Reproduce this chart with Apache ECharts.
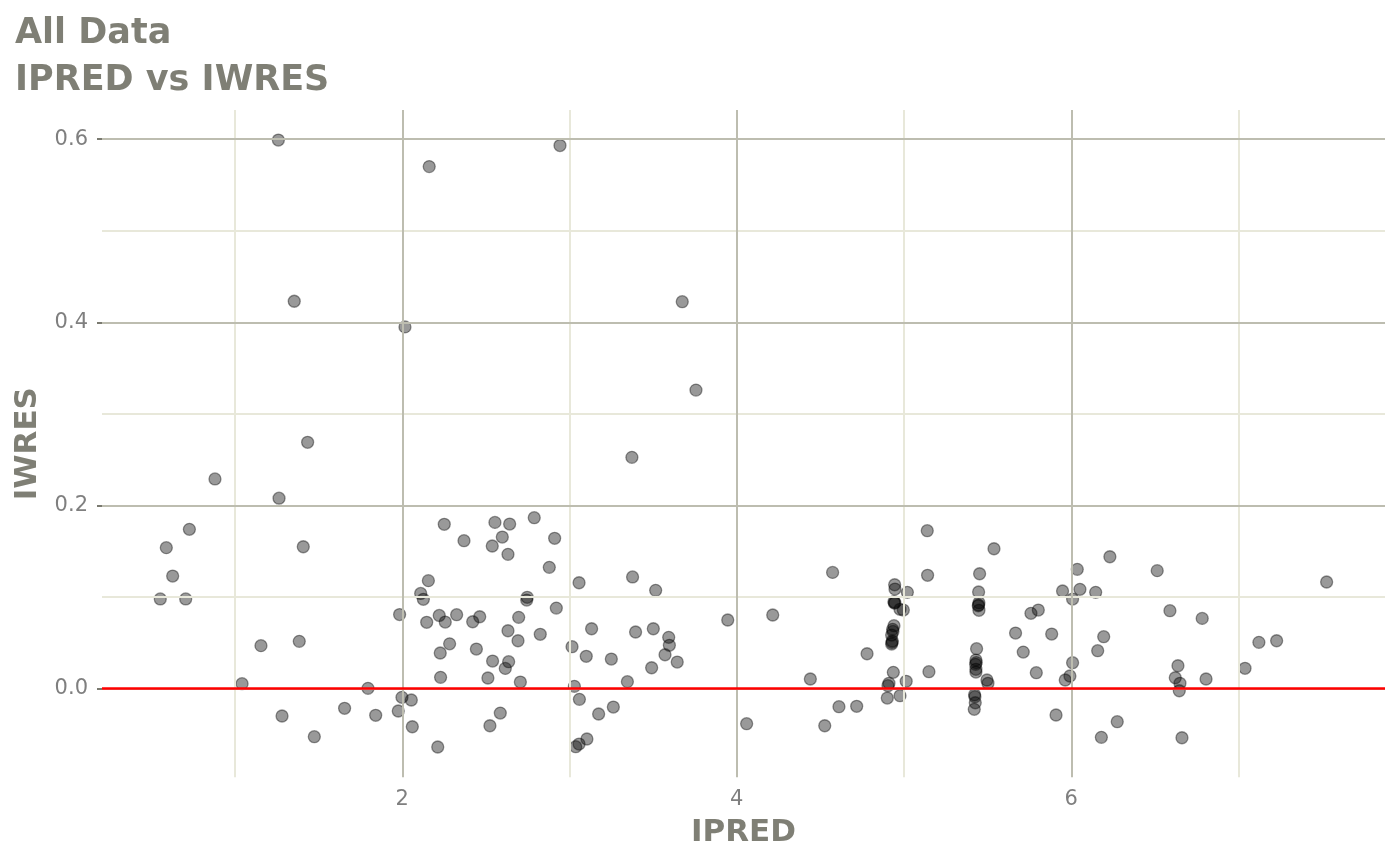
<!DOCTYPE html>
<html>
<head>
<meta charset="utf-8">
<script src="https://cdn.jsdelivr.net/npm/echarts@6/dist/echarts.min.js"></script>
<style>html,body{margin:0;padding:0;background:#fff}#c{width:1400px;height:865px}</style>
</head>
<body>
<div id="c"></div>
<script>
const ipred = [
1.259,2.161,1.354,2.016,2.943,3.674,3.756,1.434,0.880,1.263,2.251,0.727,0.589,1.408,0.627,0.553,0.705,2.156,2.110,2.126,
1.984,2.221,2.146,2.257,2.283,2.227,1.155,1.384,2.229,1.042,1.795,1.998,2.054,1.281,1.655,1.841,1.976,2.060,1.474,2.212,
3.373,2.554,2.642,2.789,2.369,2.598,2.538,2.911,2.632,2.879,3.057,3.377,3.515,2.747,2.744,2.921,2.325,2.421,2.463,2.696,
2.632,2.825,2.692,3.132,3.395,3.501,3.593,3.597,3.571,3.644,3.491,2.443,2.540,2.636,2.616,3.015,3.100,3.250,2.512,2.706,
3.346,3.029,3.059,3.262,3.174,2.586,2.524,3.104,3.057,3.037,3.946,4.215,4.059,4.573,4.440,4.611,4.717,4.526,4.779,
4.944,4.946,5.020,4.940,4.946,4.976,4.996,4.940,4.932,4.926,4.930,4.926,4.936,4.910,4.904,5.013,4.900,4.976,4.942,4.934,4.928,
5.139,5.141,5.149,5.538,
5.452,5.446,5.448,5.444,5.448,5.434,5.430,5.428,5.430,5.430,5.496,5.502,5.422,5.424,5.426,5.420,5.446,5.432,
5.667,5.713,5.759,5.803,5.883,5.791,5.909,5.948,6.008,6.036,6.008,5.992,5.964,
6.052,6.231,6.146,6.514,6.194,6.158,6.590,6.783,7.527,7.122,7.228,7.039,6.638,6.622,6.650,6.646,6.806,6.275,6.180,6.662
];
const iwres = [
0.599,0.570,0.423,0.395,0.593,0.4225,0.326,0.269,0.229,0.208,0.1795,0.174,0.154,0.155,0.123,0.098,0.098,0.118,0.104,0.0976,
0.081,0.080,0.0725,0.0728,0.049,0.039,0.047,0.0517,0.0124,0.0055,0.0004,-0.0094,-0.0123,-0.0298,-0.0214,-0.029,-0.0243,-0.0415,-0.0524,-0.0636,
0.2526,0.1816,0.1798,0.1867,0.1616,0.1656,0.1558,0.1642,0.1467,0.1325,0.1157,0.122,0.1074,0.0998,0.0968,0.088,0.0808,0.0731,0.0786,0.0779,
0.0633,0.0594,0.0524,0.0655,0.0619,0.0655,0.0561,0.0474,0.0371,0.0291,0.0229,0.0433,0.0302,0.0295,0.0222,0.0459,0.0354,0.0324,0.0117,0.0073,
0.0077,0.0026,-0.0116,-0.020,-0.0276,-0.0266,-0.0404,-0.0549,-0.0604,-0.0633,0.075,0.0805,-0.0382,0.127,0.0106,-0.0196,-0.0192,-0.0404,0.0382,
0.1135,0.1088,0.1052,0.095,0.0939,0.0867,0.0859,0.0688,0.0648,0.0586,0.0521,0.0488,0.0179,0.0059,0.0033,0.0081,-0.0102,-0.0076,0.0935,0.0625,0.0505,
0.1725,0.1238,0.0186,0.1528,
0.1255,0.1056,0.0939,0.0906,0.0856,0.0437,0.0313,0.0266,0.0212,0.0182,0.0095,0.0059,-0.0066,-0.0087,-0.0153,-0.0225,0.0915,0.0285,
0.0608,0.040,0.0823,0.0859,0.0597,0.0175,-0.0287,0.1067,0.0979,0.1303,0.0284,0.0139,0.0095,
0.1085,0.1441,0.1052,0.1289,0.0568,0.0415,0.0852,0.0768,0.1165,0.0506,0.0524,0.0223,0.0251,0.012,0.0059,-0.0022,0.0106,-0.036,-0.0531,-0.0535
];
const xMajor = [2, 4, 6];
const xMinor = [1, 3, 5, 7];
const yMajor = [0, 0.2, 0.4, 0.6];
const yMinor = [0.1, 0.3, 0.5];
const xRange = [0.2045, 7.876];
const yRange = [-0.0967, 0.6318];
const refLine = 0;

const FONT = 'DejaVu Sans';
const TXT = '#7f7f75';
const MAJ = '#bdbdb0';
const MIN = '#e8e8da';

const pts = ipred.map((x, i) => [x, iwres[i]]);
const gridLines = [];
xMinor.forEach(v => gridLines.push({xAxis: v, lineStyle: {color: MIN, width: 2, type: 'solid'}}));
yMinor.forEach(v => gridLines.push({yAxis: v, lineStyle: {color: MIN, width: 2, type: 'solid'}}));
xMajor.forEach(v => gridLines.push({xAxis: v, lineStyle: {color: MAJ, width: 2, type: 'solid'}}));
yMajor.forEach(v => gridLines.push({yAxis: v, lineStyle: {color: MAJ, width: 2, type: 'solid'}}));

const chart = echarts.init(document.getElementById('c'), null, {renderer: 'canvas'});
chart.setOption({
  animation: false,
  backgroundColor: '#ffffff',
  title: {
    text: 'All Data\nIPRED vs IWRES',
    left: 10, top: 5,
    textStyle: {fontFamily: FONT, fontWeight: 'bold', fontSize: 35, lineHeight: 47, color: TXT}
  },
  grid: {left: 102, right: 15, top: 110, bottom: 87.7, containLabel: false},
  xAxis: {
    type: 'value', min: xRange[0], max: xRange[1],
    name: 'IPRED', nameLocation: 'middle', nameGap: 40,
    nameTextStyle: {fontFamily: FONT, fontWeight: 'bold', fontSize: 31, color: TXT},
    axisLine: {show: false},
    axisTick: {show: true, length: 5, customValues: xMajor, lineStyle: {color: '#7a7a70', width: 2}},
    axisLabel: {customValues: xMajor, margin: 12, fontFamily: FONT, fontSize: 21, color: '#7f7f7f'},
    splitLine: {show: false}
  },
  yAxis: {
    type: 'value', min: yRange[0], max: yRange[1],
    name: 'IWRES', nameLocation: 'middle', nameGap: 57, nameRotate: 90,
    nameTextStyle: {fontFamily: FONT, fontWeight: 'bold', fontSize: 31, color: TXT},
    axisLine: {show: false},
    axisTick: {show: true, length: 5, customValues: yMajor, lineStyle: {color: '#7a7a70', width: 2}},
    axisLabel: {customValues: yMajor, margin: 14, fontFamily: FONT, fontSize: 21, color: '#7f7f7f',
      formatter: v => v.toFixed(1)},
    splitLine: {show: false}
  },
  series: [
    {
      type: 'scatter', data: [], z: 1, silent: true,
      markLine: {silent: true, symbol: ['none', 'none'], label: {show: false}, animation: false, data: gridLines}
    },
    {
      type: 'scatter', data: pts, z: 3, symbol: 'circle', symbolSize: 12,
      itemStyle: {color: 'rgba(0,0,0,0.5)', borderColor: 'rgba(0,0,0,0.5)', borderWidth: 1.3}
    },
    {
      type: 'scatter', data: [], z: 4, silent: true,
      markLine: {silent: true, symbol: ['none', 'none'], label: {show: false}, animation: false,
        data: [{yAxis: refLine, lineStyle: {color: '#ff0000', width: 2.5, type: 'solid'}}]}
    }
  ]
});
</script>
</body>
</html>
